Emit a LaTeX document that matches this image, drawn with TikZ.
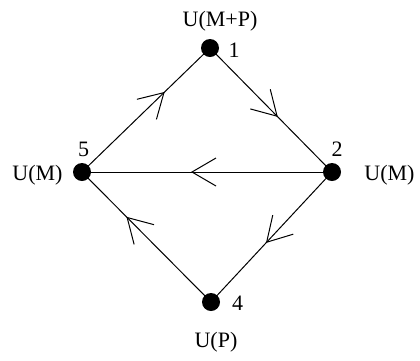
\documentclass[tikz,border=0pt]{standalone}
\usepackage{fontspec}
\setmainfont{Liberation Serif}
\usetikzlibrary{decorations.markings}
\begin{document}
\begin{tikzpicture}[x=1pt,y=-1pt,
  vert/.style={circle,fill=black,inner sep=0pt,minimum size=18pt},
  lbl/.style={inner sep=0pt,anchor=base,font=\fontsize{22}{26}\selectfont},
  edge/.style={line width=1pt},
  vmark/.style={postaction={decorate,decoration={markings,
      mark=at position #1 with {\draw[line width=1pt] (-24pt,14pt) -- (0pt,0pt) -- (-24pt,-14pt);}}}}
  ]
\useasboundingbox (0,0) rectangle (420,360);
\coordinate (p1) at (210,48);
\coordinate (p2) at (332,172);
\coordinate (p5) at (82,172);
\coordinate (p4) at (211,302);
\draw[edge,vmark=0.64] (p5) -- (p1);
\draw[edge,vmark=0.55] (p1) -- (p2);
\draw[edge,vmark=0.56] (p2) -- (p5);
\draw[edge,vmark=0.54] (p2) -- (p4);
\draw[edge,vmark=0.65] (p4) -- (p5);
\node[vert] (n1) at (p1) {};
\node[vert] (n2) at (p2) {};
\node[vert] (n5) at (p5) {};
\node[vert] (n4) at (p4) {};
\node[lbl] (t1) at (220,26) {U(M+P)};
\node[lbl] (d1) at (234,57) {1};
\node[lbl] (d5) at (83.5,156) {5};
\node[lbl] (t5) at (37.5,180) {U(M)};
\node[lbl] (d2) at (337,156) {2};
\node[lbl] (t2) at (389.5,180) {U(M)};
\node[lbl] (d4) at (237.5,310) {4};
\node[lbl] (t4) at (216,347) {U(P)};
\end{tikzpicture}
\end{document}
